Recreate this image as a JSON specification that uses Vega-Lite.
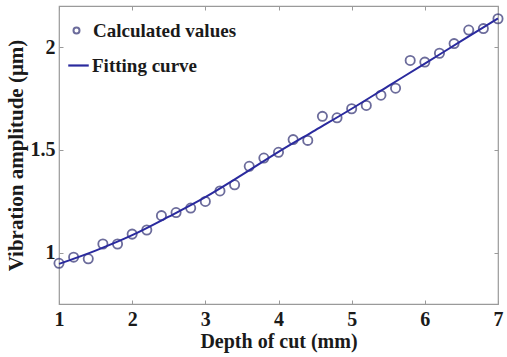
{
  "$schema": "https://vega.github.io/schema/vega-lite/v6.json",
  "autosize": "none",
  "width": 439,
  "height": 298,
  "padding": {"left": 59, "top": 6, "right": 9, "bottom": 53},
  "background": "white",
  "config": {
    "view": {"stroke": "#9a9a9a", "strokeWidth": 1.2},
    "font": "Liberation Serif",
    "axis": {
      "domain": false,
      "grid": false,
      "tickColor": "#9a9a9a",
      "tickSize": -4,
      "labelFont": "Liberation Serif",
      "labelFontWeight": "bold",
      "labelFontSize": 20,
      "labelColor": "#1a1a1a",
      "titleFont": "Liberation Serif",
      "titleFontWeight": "bold",
      "titleColor": "#1a1a1a"
    },
    "legend": {
      "labelFont": "Liberation Serif", "labelFontWeight": "bold", "labelFontSize": 19,
      "labelColor": "#1a1a1a", "padding": 0, "title": null
    }
  },
  "datasets": {
    "pts": [
      {"depth": 1.0, "amp": 0.948, "series": "Calculated values"}, {"depth": 1.2, "amp": 0.978, "series": "Calculated values"}, {"depth": 1.4, "amp": 0.97, "series": "Calculated values"},
      {"depth": 1.6, "amp": 1.042, "series": "Calculated values"}, {"depth": 1.8, "amp": 1.042, "series": "Calculated values"}, {"depth": 2.0, "amp": 1.09, "series": "Calculated values"},
      {"depth": 2.2, "amp": 1.11, "series": "Calculated values"}, {"depth": 2.4, "amp": 1.18, "series": "Calculated values"}, {"depth": 2.6, "amp": 1.195, "series": "Calculated values"},
      {"depth": 2.8, "amp": 1.217, "series": "Calculated values"}, {"depth": 3.0, "amp": 1.249, "series": "Calculated values"}, {"depth": 3.2, "amp": 1.30, "series": "Calculated values"},
      {"depth": 3.4, "amp": 1.33, "series": "Calculated values"}, {"depth": 3.6, "amp": 1.42, "series": "Calculated values"}, {"depth": 3.8, "amp": 1.46, "series": "Calculated values"},
      {"depth": 4.0, "amp": 1.488, "series": "Calculated values"}, {"depth": 4.2, "amp": 1.55, "series": "Calculated values"}, {"depth": 4.4, "amp": 1.546, "series": "Calculated values"},
      {"depth": 4.6, "amp": 1.663, "series": "Calculated values"}, {"depth": 4.8, "amp": 1.656, "series": "Calculated values"}, {"depth": 5.0, "amp": 1.70, "series": "Calculated values"},
      {"depth": 5.2, "amp": 1.716, "series": "Calculated values"}, {"depth": 5.4, "amp": 1.766, "series": "Calculated values"}, {"depth": 5.6, "amp": 1.80, "series": "Calculated values"},
      {"depth": 5.8, "amp": 1.935, "series": "Calculated values"}, {"depth": 6.0, "amp": 1.927, "series": "Calculated values"}, {"depth": 6.2, "amp": 1.97, "series": "Calculated values"},
      {"depth": 6.4, "amp": 2.017, "series": "Calculated values"}, {"depth": 6.6, "amp": 2.083, "series": "Calculated values"}, {"depth": 6.8, "amp": 2.09, "series": "Calculated values"},
      {"depth": 7.0, "amp": 2.138, "series": "Calculated values"}
    ],
    "fit": [
      {"depth": 1.0, "amp": 0.945, "series": "Fitting curve"}, {"depth": 1.5, "amp": 1.01, "series": "Fitting curve"}, {"depth": 2.0, "amp": 1.085, "series": "Fitting curve"},
      {"depth": 2.5, "amp": 1.175, "series": "Fitting curve"}, {"depth": 3.0, "amp": 1.27, "series": "Fitting curve"}, {"depth": 3.5, "amp": 1.378, "series": "Fitting curve"},
      {"depth": 4.0, "amp": 1.49, "series": "Fitting curve"}, {"depth": 4.5, "amp": 1.595, "series": "Fitting curve"}, {"depth": 5.0, "amp": 1.70, "series": "Fitting curve"},
      {"depth": 5.5, "amp": 1.81, "series": "Fitting curve"}, {"depth": 6.0, "amp": 1.92, "series": "Fitting curve"}, {"depth": 6.5, "amp": 2.03, "series": "Fitting curve"},
      {"depth": 7.0, "amp": 2.14, "series": "Fitting curve"}
    ]
  },
  "layer": [
    {
      "data": {"name": "pts"},
      "mark": {"type": "point", "filled": false, "strokeWidth": 1.8, "size": 85},
      "encoding": {
        "x": {"field": "depth", "type": "quantitative",
              "scale": {"domain": [1, 7], "nice": false, "zero": false},
              "axis": {"orient": "bottom", "values": [1, 2, 3, 4, 5, 6, 7], "title": "Depth of cut (mm)",
                       "titleFontSize": 20, "labelPadding": 9, "titlePadding": 2, "labelFlush": false}},
        "y": {"field": "amp", "type": "quantitative",
              "scale": {"domain": [0.75, 2.2], "nice": false, "zero": false},
              "axis": {"orient": "left", "values": [1, 1.5, 2], "format": ".1~f", "title": "Vibration amplitude (μm)",
                       "titleFontSize": 21, "labelPadding": 8, "titlePadding": 4}},
        "shape": {"field": "series", "type": "nominal",
                  "scale": {"domain": ["Calculated values"], "range": ["circle"]},
                  "legend": {"orient": "none", "legendX": 8, "legendY": 15,
                             "symbolSize": 36, "symbolStrokeColor": "#2e2e72", "symbolStrokeWidth": 2,
                             "symbolFillColor": "transparent", "labelOffset": 7}},
        "stroke": {"field": "series", "type": "nominal",
                   "scale": {"domain": ["Calculated values"], "range": ["#2e2e72"]}, "legend": null}
      }
    },
    {
      "data": {"name": "fit"},
      "mark": {"type": "line", "strokeWidth": 2, "interpolate": "monotone"},
      "encoding": {
        "x": {"field": "depth", "type": "quantitative",
              "axis": {"orient": "top", "values": [1, 2, 3, 4, 5, 6, 7], "labels": false, "title": null}},
        "y": {"field": "amp", "type": "quantitative",
              "axis": {"orient": "right", "values": [1, 1.5, 2], "labels": false, "title": null}},
        "color": {"field": "series", "type": "nominal",
                  "scale": {"domain": ["Fitting curve"], "range": ["#2a2a9e"]},
                  "legend": {"orient": "none", "legendX": 8, "legendY": 48,
                             "symbolType": "stroke", "symbolSize": 420, "symbolStrokeWidth": 2.2,
                             "labelOffset": 2}}
      }
    }
  ],
  "resolve": {"axis": {"x": "independent", "y": "independent"}, "scale": {"color": "independent", "shape": "independent", "stroke": "independent"}, "legend": {"color": "independent", "shape": "independent"}}
}
